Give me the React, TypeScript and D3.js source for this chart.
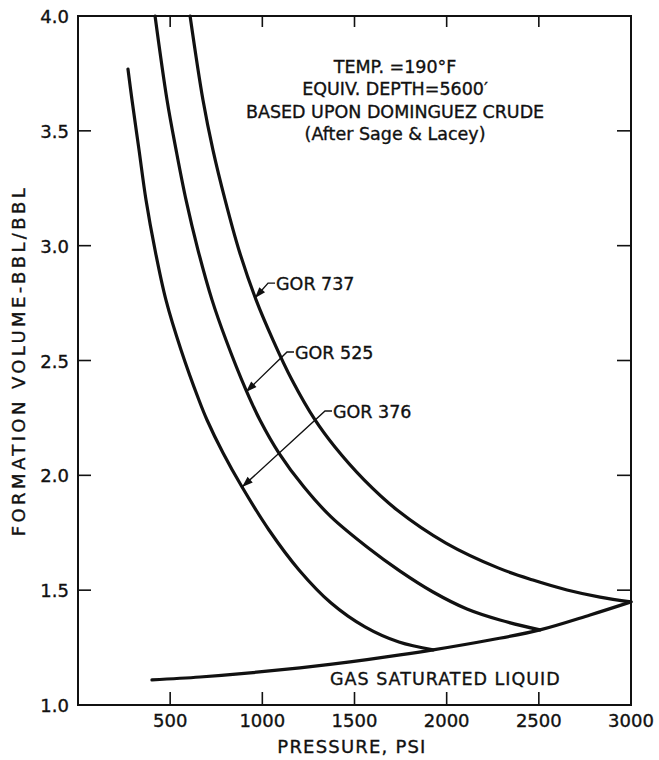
import React, {useEffect, useRef} from 'react'
import * as d3 from 'd3'

// axis ticks
const xTicks = [500, 1000, 1500, 2000, 2500, 3000]
const yTicks = [1.0, 1.5, 2.0, 2.5, 3.0, 3.5, 4.0]

// GOR 376 curve (psi, bbl/bbl)
const gor376Psi = [271, 293, 331, 369, 418, 477, 559, 656, 700, 787, 890, 1036, 1199, 1373, 1557, 1741, 1926]
const gor376Vol = [3.769, 3.634, 3.417, 3.199, 2.981, 2.764, 2.546, 2.328, 2.241, 2.097, 1.949, 1.762, 1.588, 1.444, 1.340, 1.274, 1.240]

// GOR 525 curve
const gor525Psi = [418, 483, 532, 586, 651, 727, 803, 911, 987, 1090, 1226, 1373, 1568, 1747, 1926, 2110, 2289, 2506]
const gor525Vol = [4.0, 3.634, 3.417, 3.199, 2.981, 2.764, 2.589, 2.372, 2.241, 2.097, 1.949, 1.819, 1.688, 1.583, 1.492, 1.418, 1.370, 1.327]

// GOR 737 curve
const gor737Psi = [608, 678, 732, 798, 873, 966, 1058, 1161, 1286, 1394, 1552, 1731, 1996, 2279, 2468, 2653, 2832, 3000]
const gor737Vol = [4.0, 3.634, 3.417, 3.199, 2.981, 2.764, 2.589, 2.415, 2.241, 2.123, 1.980, 1.849, 1.705, 1.597, 1.544, 1.501, 1.470, 1.449]

// gas saturated liquid line
const satPsi = [401, 662, 933, 1204, 1476, 1747, 1926, 2235, 2506, 2778, 3000]
const satVol = [1.109, 1.122, 1.140, 1.162, 1.188, 1.218, 1.240, 1.283, 1.327, 1.392, 1.449]

// curve labels with leader arrows
const gorLabels = ['GOR 737', 'GOR 525', 'GOR 376']
const elbowPsi = [1031, 1134, 1340]
const elbowVol = [2.837, 2.537, 2.280]
const tipPsi = [960, 911, 890]
const tipVol = [2.772, 2.363, 1.949]

// note block
const noteLines = ['TEMP. =190°F', 'EQUIV. DEPTH=5600′', 'BASED UPON DOMINGUEZ CRUDE', '(After Sage & Lacey)']
const notePsi = 1720
const noteVol = 3.752

const satLabel = 'GAS SATURATED LIQUID'
const satLabelPsi = 1367
const satLabelVol = 1.087

export default function App(){
    const svgRef = useRef<SVGSVGElement>(null)

    const W = 659, H = 760
    const left = 78, right = 631, top = 16, bottom = 705
    const font = '"DejaVu Sans", sans-serif'
    const ink = '#111'

    useEffect(() => {
        const svg = d3.select(svgRef.current)
        svg.selectAll('*').remove()

        const x = d3.scaleLinear().domain([0, 3000]).range([left, right])
        const y = d3.scaleLinear().domain([1, 4]).range([bottom, top])

        svg.append('rect').attr('width', W).attr('height', H).attr('fill', 'white')

        // frame
        svg.append('rect')
            .attr('x', left).attr('y', top)
            .attr('width', right - left).attr('height', bottom - top)
            .attr('fill', 'none').attr('stroke', ink).attr('stroke-width', 2)

        // inner ticks
        const inner = xTicks.filter(d => d < 3000)
        svg.append('g').selectAll('line').data(inner).join('line')
            .attr('x1', d => x(d)).attr('x2', d => x(d))
            .attr('y1', bottom).attr('y2', bottom - 13)
            .attr('stroke', ink).attr('stroke-width', 1.6)
        svg.append('g').selectAll('line').data(inner).join('line')
            .attr('x1', d => x(d)).attr('x2', d => x(d))
            .attr('y1', top).attr('y2', top + 11)
            .attr('stroke', ink).attr('stroke-width', 1.6)
        const innerY = yTicks.filter(d => d > 1 && d < 4)
        svg.append('g').selectAll('line').data(innerY).join('line')
            .attr('x1', left).attr('x2', left + 13)
            .attr('y1', d => y(d)).attr('y2', d => y(d))
            .attr('stroke', ink).attr('stroke-width', 1.6)
        svg.append('g').selectAll('line').data(innerY).join('line')
            .attr('x1', right).attr('x2', right - 14)
            .attr('y1', d => y(d)).attr('y2', d => y(d))
            .attr('stroke', ink).attr('stroke-width', 1.6)

        const txt = (sel: any, size: number) => sel
            .attr('font-family', font).attr('font-size', size)
            .attr('fill', ink).attr('stroke', ink).attr('stroke-width', 0.35)

        // tick labels
        svg.append('g').selectAll('text').data(xTicks).join('text')
            .attr('x', d => x(d)).attr('y', 727)
            .attr('text-anchor', 'middle')
            .call(txt, 18)
            .text(d => d)
        svg.append('g').selectAll('text').data(yTicks).join('text')
            .attr('x', left - 9).attr('y', d => y(d) + 7)
            .attr('text-anchor', 'end')
            .call(txt, 18)
            .text(d => d3.format('.1f')(d))

        // axis titles
        svg.append('text')
            .attr('x', 352).attr('y', 753)
            .attr('text-anchor', 'middle')
            .call(txt, 18).attr('letter-spacing', 1.2)
            .text('PRESSURE, PSI')
        svg.append('text')
            .attr('transform', `translate(25,${(top + bottom) / 2}) rotate(-90)`)
            .attr('text-anchor', 'middle')
            .call(txt, 18).attr('letter-spacing', 3.4)
            .text('FORMATION VOLUME-BBL/BBL')

        // curves
        const line = d3.line<[number, number]>()
            .x(d => x(d[0])).y(d => y(d[1]))
            .curve(d3.curveCatmullRom.alpha(0.5))
        const series = [
            d3.zip(gor376Psi, gor376Vol),
            d3.zip(gor525Psi, gor525Vol),
            d3.zip(gor737Psi, gor737Vol),
            d3.zip(satPsi, satVol),
        ]
        svg.append('g').selectAll('path').data(series).join('path')
            .attr('d', d => line(d as [number, number][]))
            .attr('fill', 'none').attr('stroke', ink)
            .attr('stroke-width', 3.2).attr('stroke-linecap', 'round')

        // curve labels + arrows
        gorLabels.forEach((lab, i) => {
            const ex = x(elbowPsi[i]), ey = y(elbowVol[i])
            const tx = x(tipPsi[i]), ty = y(tipVol[i])
            const g = svg.append('g')
            g.append('polyline')
                .attr('points', `${ex + 7},${ey} ${ex},${ey} ${tx},${ty}`)
                .attr('fill', 'none').attr('stroke', ink).attr('stroke-width', 1.4)
            const ang = Math.atan2(ty - ey, tx - ex)
            const len = 11, hw = 3.8
            const bx = tx - len * Math.cos(ang), by = ty - len * Math.sin(ang)
            const px = -Math.sin(ang) * hw, py = Math.cos(ang) * hw
            g.append('polygon')
                .attr('points', `${tx},${ty} ${bx + px},${by + py} ${bx - px},${by - py}`)
                .attr('fill', ink)
            g.append('text')
                .attr('x', ex + 8).attr('y', ey + 6.5)
                .call(txt, 17.5)
                .text(lab)
        })

        // note block
        svg.append('g').selectAll('text').data(noteLines).join('text')
            .attr('x', x(notePsi)).attr('y', (d, i) => y(noteVol) + i * 22.5)
            .attr('text-anchor', 'middle')
            .call(txt, 17.5)
            .text(d => d)

        svg.append('text')
            .attr('x', x(satLabelPsi)).attr('y', y(satLabelVol))
            .call(txt, 17.5).attr('letter-spacing', 1)
            .text(satLabel)
    })

    return (
        <svg
            ref={svgRef}
            width={W}
            height={H}
            style={{position: 'absolute', left: 0, top: 0}}
        >
        </svg>
    )
}
